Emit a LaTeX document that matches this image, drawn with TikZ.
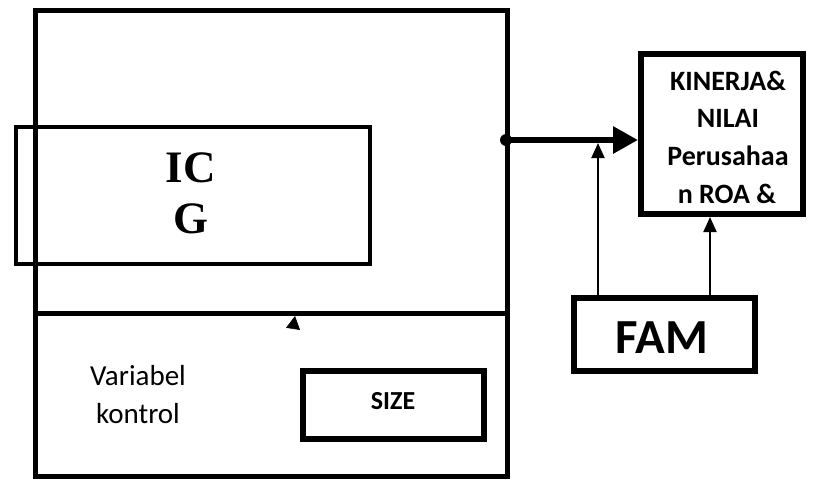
\documentclass[tikz,border=0pt]{standalone}
\usepackage{fontspec}
\usetikzlibrary{arrows.meta}
\newfontfamily\calfont{Carlito}
\newfontfamily\timesfont{Liberation Serif}
\tikzset{
  boxline/.style={draw=black, inner sep=0pt, fill=none},
  frameline/.style={boxline, line width=5pt},
  icgline/.style={boxline, line width=4.5pt},
  heavybox/.style={boxline, line width=6pt},
  midbox/.style={boxline, line width=5.5pt},
  txt/.style={inner sep=0pt, anchor=base},
  thinarrow/.style={line width=2pt, -{Triangle[length=15pt,width=13pt]}},
  thickarrow/.style={line width=6pt, -{Triangle[length=25pt,width=26pt]}},
}
\begin{document}
\begin{tikzpicture}[x=1pt,y=-1pt]
\useasboundingbox (0,0) rectangle (813,480);
% outer frame, top and bottom parts
\node[frameline, minimum width=472pt, minimum height=303pt] (top) at (271,161.5) {};
\node[frameline, minimum width=472pt, minimum height=163pt] (bottom) at (271,394.5) {};
% ICG box
\node[icgline, minimum width=354pt, minimum height=137pt] (icg) at (193,195.5) {};
\node[txt, font=\timesfont\bfseries\fontsize{45}{51}\selectfont] (icgA) at (191,182) {IC};
\node[txt, font=\timesfont\bfseries\fontsize{45}{51}\selectfont] (icgB) at (191,233) {G};
% Kinerja box
\node[heavybox, minimum width=162pt, minimum height=160pt] (kin) at (722,134) {};
\node[txt, font=\calfont\bfseries\fontsize{28}{37}\selectfont] (k1) at (728,90) {KINERJA\&};
\node[txt, font=\calfont\bfseries\fontsize{28}{37}\selectfont] (k2) at (728,127.5) {NILAI};
\node[txt, font=\calfont\bfseries\fontsize{28}{37}\selectfont] (k3) at (728,165) {Perusahaa};
\node[txt, font=\calfont\bfseries\fontsize{28}{37}\selectfont] (k4) at (727,203) {n ROA \&};
% FAM box
\node[midbox, minimum width=181pt, minimum height=73pt] (fam) at (664.5,334.5) {};
\node[txt, font=\calfont\bfseries\fontsize{49}{55}\selectfont] (famt) at (662,353) {FAM};
% SIZE box
\node[midbox, minimum width=181pt, minimum height=68pt] (size) at (393.5,405) {};
\node[txt, font=\calfont\bfseries\fontsize{26}{30}\selectfont] (sizet) at (393,409) {SIZE};
% Variabel kontrol
\node[txt, font=\calfont\fontsize{29}{38}\selectfont] (v1) at (138,385) {Variabel};
\node[txt, font=\calfont\fontsize{29}{38}\selectfont] (v2) at (138,423) {kontrol};
% connectors
\coordinate (dotpt) at (506,140);
\fill (dotpt) circle (6pt);
\draw[thickarrow] (dotpt) -- (dotpt -| kin.west);
\coordinate (famL) at (598,143);
\draw[thinarrow] (famL |- fam.north) -- (famL);
\coordinate (famR) at (710,217);
\draw[thinarrow] (famR |- fam.north) -- (famR);
\coordinate (sa1) at (293,329);
\coordinate (sa2) at (295,316);
\draw[line width=0.5pt, -{Triangle[length=13pt,width=14pt]}] (sa1) -- (sa2);
\end{tikzpicture}
\end{document}
